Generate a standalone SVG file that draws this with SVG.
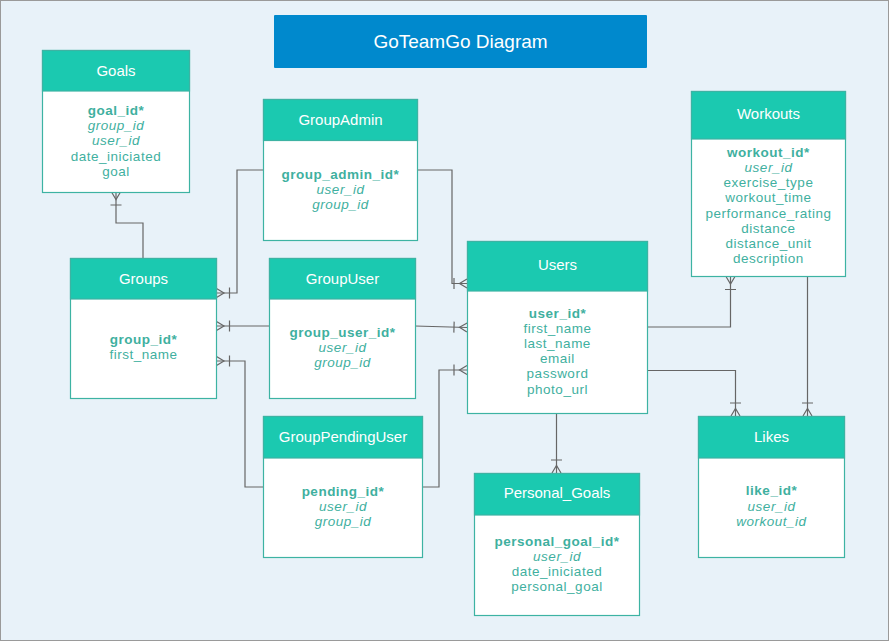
<svg xmlns="http://www.w3.org/2000/svg" width="889" height="641" viewBox="0 0 889 641">
<style>
.bg{fill:#E8F2F9;stroke:#9a9a9a;stroke-width:1}
.body{fill:#ffffff;stroke:#3DB3A3;stroke-width:1.2}
.head{fill:#1BC9B0;stroke:#3DB3A3;stroke-width:1.2}
.ht{font-family:"Liberation Sans",Arial,sans-serif;font-size:15px;fill:#ffffff;text-anchor:middle}
.f{font-family:"Liberation Sans",Arial,sans-serif;font-size:13.5px;letter-spacing:0.5px;fill:#3FB0A0;text-anchor:middle}
.pk{font-weight:bold}
.fk{font-style:italic}
.c{fill:none;stroke:#666666;stroke-width:1.2}
.title{font-family:"Liberation Sans",Arial,sans-serif;font-size:19px;fill:#ffffff;text-anchor:middle}
</style>
<defs>
<marker id="crow" markerUnits="userSpaceOnUse" viewBox="-15 -7 17 14" refX="0" refY="0" markerWidth="17" markerHeight="14" orient="auto" overflow="visible">
<path d="M0,-4.5 L-7.5,0 L0,4.5 M-13,-5.5 V5.5" fill="none" stroke="#666666" stroke-width="1.2"/>
</marker>
</defs>
<rect class="bg" x="0.5" y="0.5" width="888" height="640"/>
<g id="title">
<rect x="274" y="15" width="373" height="53" fill="#0089CD" rx="1"/>
<text class="title" x="460.5" y="47.5">GoTeamGo Diagram</text>
</g>
<g id="connectors">
<path class="c" d="M143,258 V223 H116 V192" marker-end="url(#crow)"/>
<path class="c" d="M263,170 H237 V293 H216.5" marker-end="url(#crow)"/>
<path class="c" d="M269,326 H216.5" marker-end="url(#crow)"/>
<path class="c" d="M263,487 H245 V361 H216.5" marker-end="url(#crow)"/>
<path class="c" d="M417,170 H452 V283.5 H467" marker-end="url(#crow)"/>
<path class="c" d="M415,326 L467,327.5" marker-end="url(#crow)"/>
<path class="c" d="M423,487 H439 V370 H467" marker-end="url(#crow)"/>
<path class="c" d="M647,327 H730.5 V276.5" marker-end="url(#crow)"/>
<path class="c" d="M647,370.5 H735.5 V416" marker-end="url(#crow)"/>
<path class="c" d="M807.5,276.5 V416" marker-end="url(#crow)"/>
<path class="c" d="M556.5,413.5 V473" marker-end="url(#crow)"/>
</g>
<g id="goals">
<rect class="body" x="42.5" y="50.5" width="147" height="142"/>
<rect class="head" x="42.5" y="50.5" width="147" height="40.5"/>
<text class="ht" x="116" y="75.5">Goals</text>
<text class="f"><tspan class="pk" x="116" y="115">goal_id*</tspan><tspan class="fk" x="116" y="130.2">group_id</tspan><tspan class="fk" x="116" y="145.4">user_id</tspan><tspan x="116" y="160.6">date_iniciated</tspan><tspan x="116" y="175.8">goal</tspan></text>
</g>
<g id="groupadmin">
<rect class="body" x="263.5" y="99.5" width="154" height="141"/>
<rect class="head" x="263.5" y="99.5" width="154" height="41"/>
<text class="ht" x="340.5" y="124.5">GroupAdmin</text>
<text class="f"><tspan class="pk" x="340.5" y="179">group_admin_id*</tspan><tspan class="fk" x="340.5" y="194.2">user_id</tspan><tspan class="fk" x="340.5" y="209.4">group_id</tspan></text>
</g>
<g id="groups">
<rect class="body" x="70.5" y="258.5" width="146" height="140"/>
<rect class="head" x="70.5" y="258.5" width="146" height="40.5"/>
<text class="ht" x="143.5" y="283.5">Groups</text>
<text class="f"><tspan class="pk" x="143.5" y="344">group_id*</tspan><tspan x="143.5" y="359.2">first_name</tspan></text>
</g>
<g id="groupuser">
<rect class="body" x="269.5" y="258.5" width="146" height="140"/>
<rect class="head" x="269.5" y="258.5" width="146" height="40.5"/>
<text class="ht" x="342.5" y="283.5">GroupUser</text>
<text class="f"><tspan class="pk" x="342.5" y="337">group_user_id*</tspan><tspan class="fk" x="342.5" y="352.2">user_id</tspan><tspan class="fk" x="342.5" y="367.4">group_id</tspan></text>
</g>
<g id="users">
<rect class="body" x="467.5" y="241.5" width="180" height="172"/>
<rect class="head" x="467.5" y="241.5" width="180" height="49.5"/>
<text class="ht" x="557.5" y="269.5">Users</text>
<text class="f"><tspan class="pk" x="557.5" y="317.5">user_id*</tspan><tspan x="557.5" y="332.7">first_name</tspan><tspan x="557.5" y="347.9">last_name</tspan><tspan x="557.5" y="363.1">email</tspan><tspan x="557.5" y="378.3">password</tspan><tspan x="557.5" y="393.5">photo_url</tspan></text>
</g>
<g id="workouts">
<rect class="body" x="691.5" y="91.5" width="154" height="185"/>
<rect class="head" x="691.5" y="91.5" width="154" height="47.5"/>
<text class="ht" x="768.5" y="118.5">Workouts</text>
<text class="f"><tspan class="pk" x="768.5" y="156.7">workout_id*</tspan><tspan class="fk" x="768.5" y="171.9">user_id</tspan><tspan x="768.5" y="187.1">exercise_type</tspan><tspan x="768.5" y="202.3">workout_time</tspan><tspan x="768.5" y="217.5">performance_rating</tspan><tspan x="768.5" y="232.7">distance</tspan><tspan x="768.5" y="247.9">distance_unit</tspan><tspan x="768.5" y="263.1">description</tspan></text>
</g>
<g id="likes">
<rect class="body" x="698.5" y="416.5" width="146" height="141"/>
<rect class="head" x="698.5" y="416.5" width="146" height="41.5"/>
<text class="ht" x="771.5" y="441.5">Likes</text>
<text class="f"><tspan class="pk" x="771.5" y="495.3">like_id*</tspan><tspan class="fk" x="771.5" y="510.5">user_id</tspan><tspan class="fk" x="771.5" y="525.7">workout_id</tspan></text>
</g>
<g id="grouppendinguser">
<rect class="body" x="263.5" y="416.5" width="159" height="141"/>
<rect class="head" x="263.5" y="416.5" width="159" height="41.5"/>
<text class="ht" x="343" y="441.5">GroupPendingUser</text>
<text class="f"><tspan class="pk" x="343" y="495.7">pending_id*</tspan><tspan class="fk" x="343" y="510.9">user_id</tspan><tspan class="fk" x="343" y="526.1">group_id</tspan></text>
</g>
<g id="personal_goals">
<rect class="body" x="474.5" y="473.5" width="165" height="142"/>
<rect class="head" x="474.5" y="473.5" width="165" height="41.5"/>
<text class="ht" x="557" y="498">Personal_Goals</text>
<text class="f"><tspan class="pk" x="557" y="545.7">personal_goal_id*</tspan><tspan class="fk" x="557" y="560.9">user_id</tspan><tspan x="557" y="576.1">date_iniciated</tspan><tspan x="557" y="591.3">personal_goal</tspan></text>
</g>
</svg>
